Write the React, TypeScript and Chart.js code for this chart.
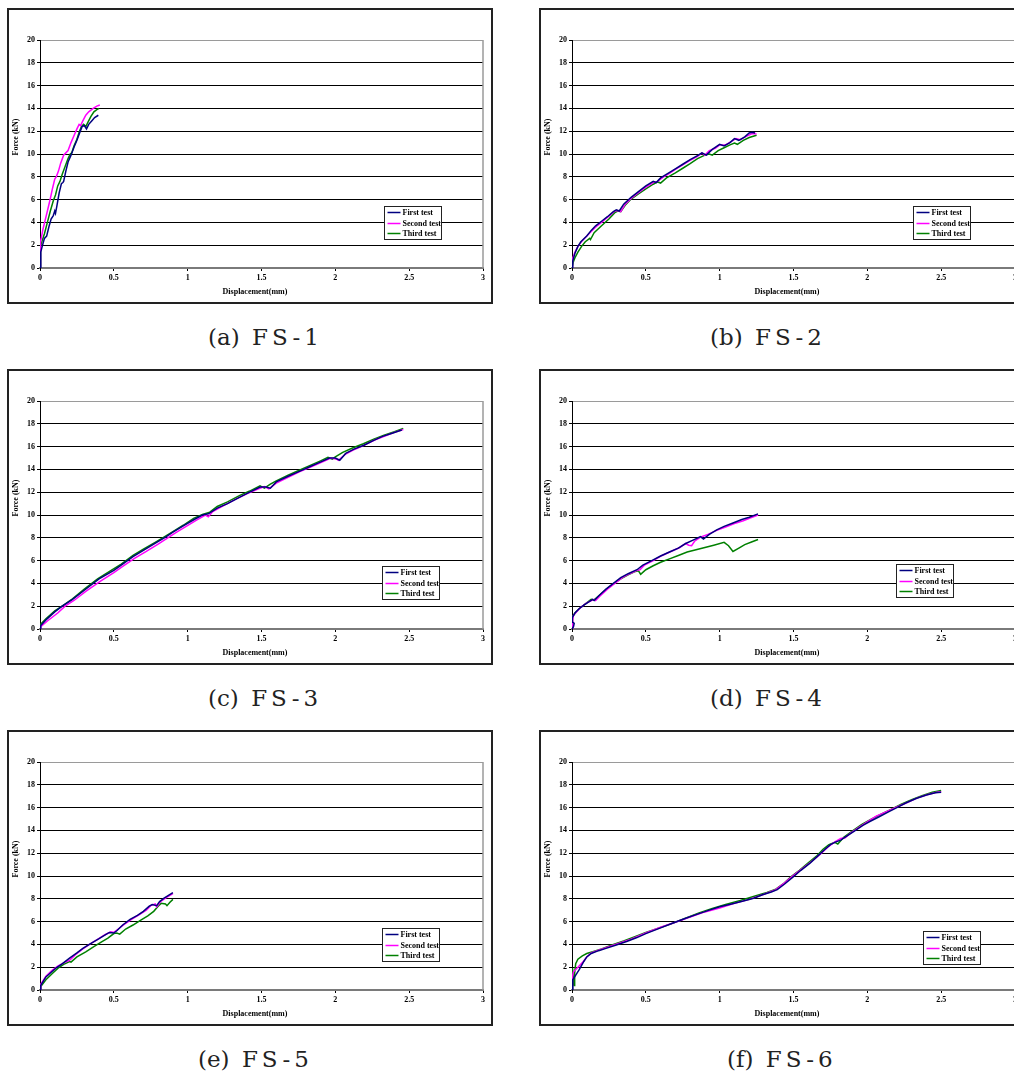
import React, { useEffect, useRef } from "react";
import { Chart, registerables } from "chart.js";

Chart.register(...registerables);

type Pt = [number, number];

const xTicks = [0, 0.5, 1, 1.5, 2, 2.5, 3];
const yTicks = [0, 2, 4, 6, 8, 10, 12, 14, 16, 18, 20];
const seriesNames = ["First test", "Second test", "Third test"];
const seriesColors = ["#000080", "#FF00FF", "#008000"];
const captionLetters = ["(a)", "(b)", "(c)", "(d)", "(e)", "(f)"];
const captionNames = ["FS-1", "FS-2", "FS-3", "FS-4", "FS-5", "FS-6"];
const xTitle = "Displacement(mm)";
const yTitle = "Force (kN)";

const fs1First: Pt[] = [[0,0],[0.005,1.4],[0.015,1.9],[0.03,2.6],[0.045,2.8],[0.06,3.6],[0.075,4.3],[0.09,4.6],[0.1,5.0],[0.105,4.8],[0.115,5.5],[0.13,6.6],[0.145,7.4],[0.155,7.5],[0.16,7.6],[0.175,8.5],[0.19,9.3],[0.21,9.9],[0.23,10.6],[0.25,11.2],[0.27,11.9],[0.285,12.4],[0.3,12.5],[0.315,12.2],[0.33,12.6],[0.35,12.9],[0.37,13.2],[0.395,13.4]];
const fs1Second: Pt[] = [[0,0],[0.003,2.3],[0.01,2.7],[0.02,3.4],[0.035,4.2],[0.05,5.0],[0.07,6.1],[0.085,7.0],[0.1,7.8],[0.11,8.0],[0.125,8.5],[0.14,9.2],[0.16,9.9],[0.175,10.1],[0.19,10.3],[0.21,11.0],[0.23,11.6],[0.25,12.2],[0.265,12.6],[0.275,12.5],[0.29,12.9],[0.31,13.4],[0.33,13.7],[0.36,14.0],[0.385,14.2],[0.405,14.3]];
const fs1Third: Pt[] = [[0,0],[0.004,1.9],[0.015,2.4],[0.03,3.0],[0.05,4.0],[0.07,5.0],[0.09,5.9],[0.105,6.4],[0.12,7.2],[0.135,7.6],[0.15,8.2],[0.17,8.9],[0.19,9.6],[0.205,10.0],[0.215,10.1],[0.23,10.7],[0.25,11.3],[0.265,11.9],[0.28,12.4],[0.295,12.6],[0.31,12.4],[0.325,12.8],[0.345,13.3],[0.365,13.7],[0.385,13.9],[0.4,14.0]];

const fs2First: Pt[] = [[0,0],[0.005,0.6],[0.02,1.3],[0.04,1.9],[0.06,2.3],[0.1,2.8],[0.13,3.3],[0.16,3.7],[0.2,4.1],[0.24,4.5],[0.28,4.95],[0.3,5.1],[0.32,5.0],[0.35,5.6],[0.4,6.2],[0.45,6.7],[0.5,7.2],[0.55,7.6],[0.57,7.5],[0.6,7.9],[0.65,8.3],[0.7,8.7],[0.75,9.1],[0.8,9.5],[0.85,9.85],[0.88,10.1],[0.91,9.9],[0.95,10.4],[1.0,10.85],[1.03,10.7],[1.07,11.0],[1.1,11.35],[1.13,11.2],[1.17,11.5],[1.2,11.85],[1.22,11.9],[1.24,11.85]];
const fs2Second: Pt[] = [[0,0],[0.003,0.8],[0.02,1.4],[0.04,1.9],[0.07,2.4],[0.1,2.8],[0.13,3.2],[0.17,3.7],[0.21,4.1],[0.25,4.55],[0.29,5.0],[0.31,5.05],[0.33,4.95],[0.36,5.6],[0.4,6.1],[0.45,6.6],[0.5,7.1],[0.55,7.5],[0.58,7.6],[0.62,8.0],[0.66,8.3],[0.7,8.65],[0.75,9.05],[0.8,9.45],[0.85,9.8],[0.88,10.1],[0.9,9.9],[0.93,10.3],[0.97,10.5],[1.0,10.8],[1.04,10.8],[1.08,11.1],[1.11,11.35],[1.14,11.25],[1.18,11.55],[1.22,11.8],[1.25,11.75]];
const fs2Third: Pt[] = [[0,0],[0.008,0.5],[0.02,0.9],[0.04,1.4],[0.065,1.9],[0.09,2.3],[0.12,2.6],[0.125,2.5],[0.15,3.1],[0.2,3.7],[0.25,4.3],[0.29,4.85],[0.31,5.0],[0.33,4.95],[0.36,5.5],[0.4,6.05],[0.45,6.5],[0.5,6.95],[0.55,7.35],[0.58,7.55],[0.6,7.45],[0.64,7.9],[0.7,8.35],[0.75,8.75],[0.8,9.15],[0.85,9.6],[0.9,9.9],[0.93,10.0],[0.95,9.9],[0.99,10.3],[1.03,10.55],[1.07,10.8],[1.1,10.95],[1.12,10.85],[1.16,11.2],[1.2,11.45],[1.25,11.65]];

const fs3First: Pt[] = [[0,0],[0.005,0.3],[0.04,0.8],[0.1,1.5],[0.15,2.0],[0.22,2.6],[0.3,3.4],[0.4,4.4],[0.5,5.15],[0.55,5.6],[0.63,6.35],[0.7,6.9],[0.79,7.6],[0.85,8.05],[0.9,8.5],[0.97,9.05],[1.05,9.65],[1.1,10.0],[1.14,10.1],[1.2,10.6],[1.27,11.0],[1.35,11.55],[1.42,12.0],[1.49,12.45],[1.53,12.45],[1.56,12.35],[1.6,12.9],[1.68,13.4],[1.76,13.85],[1.83,14.25],[1.89,14.6],[1.96,15.0],[2.0,15.0],[2.03,14.8],[2.07,15.4],[2.13,15.8],[2.19,16.1],[2.26,16.55],[2.32,16.9],[2.39,17.2],[2.45,17.45]];
const fs3Second: Pt[] = [[0,0],[0.005,0.2],[0.05,0.7],[0.12,1.4],[0.17,2.0],[0.23,2.5],[0.31,3.3],[0.41,4.2],[0.5,4.95],[0.56,5.5],[0.64,6.2],[0.72,6.8],[0.8,7.45],[0.86,7.95],[0.92,8.45],[0.99,9.0],[1.06,9.55],[1.12,10.0],[1.14,9.85],[1.17,10.3],[1.24,10.8],[1.32,11.35],[1.4,11.85],[1.48,12.3],[1.52,12.5],[1.55,12.3],[1.6,12.8],[1.68,13.3],[1.76,13.8],[1.84,14.25],[1.91,14.65],[1.97,15.0],[2.01,14.9],[2.02,14.8],[2.07,15.35],[2.13,15.75],[2.2,16.15],[2.27,16.6],[2.34,16.95],[2.4,17.25],[2.46,17.5]];
const fs3Third: Pt[] = [[0,0],[0.003,0.4],[0.04,0.9],[0.1,1.6],[0.16,2.1],[0.22,2.65],[0.3,3.5],[0.39,4.4],[0.49,5.2],[0.55,5.7],[0.63,6.45],[0.7,7.0],[0.78,7.6],[0.85,8.15],[0.9,8.55],[0.97,9.1],[1.04,9.7],[1.1,10.05],[1.15,10.25],[1.2,10.75],[1.27,11.15],[1.35,11.7],[1.42,12.1],[1.49,12.55],[1.52,12.35],[1.56,12.7],[1.6,13.0],[1.68,13.5],[1.76,13.95],[1.83,14.35],[1.9,14.75],[1.95,15.05],[1.98,14.9],[2.0,15.1],[2.05,15.5],[2.12,15.9],[2.19,16.25],[2.26,16.65],[2.33,17.0],[2.4,17.3],[2.46,17.6]];

const fs4First: Pt[] = [[0,0],[0.01,0.2],[0.015,0.5],[0.005,0.6],[0.002,1.0],[0.02,1.4],[0.05,1.8],[0.08,2.1],[0.14,2.6],[0.15,2.5],[0.18,2.9],[0.23,3.5],[0.28,4.0],[0.33,4.5],[0.38,4.85],[0.44,5.2],[0.48,5.6],[0.54,6.0],[0.6,6.4],[0.66,6.75],[0.72,7.1],[0.77,7.5],[0.82,7.8],[0.87,8.1],[0.89,7.9],[0.9,8.0],[0.93,8.3],[0.98,8.7],[1.03,9.0],[1.09,9.3],[1.15,9.6],[1.2,9.8],[1.26,10.1]];
const fs4Second: Pt[] = [[0,0],[0.005,0.8],[0.01,1.2],[0.03,1.5],[0.06,1.9],[0.1,2.3],[0.15,2.6],[0.16,2.5],[0.19,2.9],[0.24,3.5],[0.29,4.0],[0.34,4.5],[0.39,4.85],[0.44,5.15],[0.46,5.2],[0.49,5.6],[0.55,6.0],[0.61,6.45],[0.67,6.8],[0.73,7.15],[0.77,7.5],[0.79,7.35],[0.81,7.3],[0.83,7.7],[0.87,8.05],[0.92,8.3],[0.98,8.65],[1.04,8.95],[1.1,9.25],[1.16,9.5],[1.21,9.75],[1.26,10.0]];
const fs4Third: Pt[] = [[0,0],[0.003,0.6],[0.005,1.1],[0.02,1.4],[0.05,1.8],[0.08,2.1],[0.13,2.6],[0.15,2.55],[0.18,2.9],[0.23,3.45],[0.28,3.95],[0.33,4.4],[0.38,4.75],[0.43,5.05],[0.45,5.1],[0.465,4.8],[0.5,5.2],[0.55,5.55],[0.6,5.85],[0.66,6.15],[0.72,6.45],[0.78,6.75],[0.84,6.95],[0.9,7.15],[0.96,7.35],[1.03,7.6],[1.06,7.3],[1.09,6.8],[1.13,7.1],[1.17,7.4],[1.22,7.65],[1.26,7.85]];

const fs5First: Pt[] = [[0,0],[0.005,0.4],[0.04,1.15],[0.08,1.6],[0.11,1.95],[0.15,2.3],[0.2,2.8],[0.25,3.25],[0.29,3.65],[0.34,4.05],[0.4,4.5],[0.45,4.9],[0.47,5.05],[0.5,5.0],[0.52,5.2],[0.56,5.7],[0.61,6.2],[0.66,6.55],[0.7,6.9],[0.74,7.35],[0.76,7.5],[0.79,7.4],[0.81,7.75],[0.84,8.05],[0.87,8.3],[0.9,8.55]];
const fs5Second: Pt[] = [[0,0],[0.005,0.5],[0.04,1.2],[0.08,1.7],[0.12,2.1],[0.17,2.45],[0.2,2.6],[0.24,3.1],[0.29,3.6],[0.34,4.05],[0.39,4.45],[0.44,4.85],[0.48,5.1],[0.5,5.05],[0.53,5.35],[0.57,5.75],[0.62,6.2],[0.67,6.6],[0.72,7.0],[0.75,7.4],[0.78,7.55],[0.79,7.3],[0.82,7.8],[0.86,8.15],[0.9,8.45]];
const fs5Third: Pt[] = [[0,0],[0.005,0.3],[0.04,0.9],[0.08,1.4],[0.12,1.9],[0.16,2.25],[0.2,2.5],[0.21,2.45],[0.25,2.9],[0.31,3.35],[0.37,3.85],[0.42,4.25],[0.46,4.55],[0.5,4.95],[0.52,5.0],[0.54,4.9],[0.58,5.35],[0.63,5.7],[0.68,6.1],[0.73,6.5],[0.77,6.9],[0.8,7.35],[0.82,7.6],[0.85,7.55],[0.86,7.4],[0.88,7.7],[0.9,7.95]];

const fs6First: Pt[] = [[0,0],[0.005,0.9],[0.02,1.2],[0.05,1.8],[0.08,2.5],[0.1,2.9],[0.13,3.2],[0.18,3.45],[0.23,3.65],[0.3,3.95],[0.37,4.25],[0.44,4.6],[0.5,4.95],[0.6,5.45],[0.68,5.85],[0.77,6.3],[0.86,6.7],[0.94,7.05],[1.0,7.3],[1.08,7.55],[1.16,7.8],[1.23,8.05],[1.29,8.35],[1.35,8.6],[1.39,8.8],[1.44,9.3],[1.5,9.95],[1.55,10.5],[1.61,11.1],[1.66,11.7],[1.71,12.3],[1.75,12.75],[1.78,12.95],[1.82,13.15],[1.86,13.5],[1.92,14.0],[1.97,14.45],[2.02,14.8],[2.08,15.2],[2.14,15.6],[2.2,16.0],[2.26,16.4],[2.33,16.8],[2.4,17.1],[2.46,17.3],[2.5,17.35]];
const fs6Second: Pt[] = [[0,0],[0.003,1.2],[0.01,1.6],[0.04,2.0],[0.07,2.4],[0.1,2.9],[0.13,3.25],[0.18,3.5],[0.25,3.8],[0.32,4.1],[0.4,4.45],[0.5,5.0],[0.6,5.5],[0.7,5.95],[0.8,6.4],[0.9,6.85],[1.0,7.2],[1.1,7.6],[1.2,7.95],[1.3,8.4],[1.38,8.8],[1.44,9.4],[1.5,10.05],[1.56,10.65],[1.62,11.25],[1.68,11.9],[1.73,12.5],[1.78,13.0],[1.82,13.3],[1.85,13.35],[1.88,13.7],[1.94,14.25],[2.0,14.75],[2.06,15.25],[2.13,15.65],[2.2,16.05],[2.27,16.45],[2.34,16.85],[2.41,17.15],[2.47,17.35],[2.5,17.4]];
const fs6Third: Pt[] = [[0,0],[0.004,1.9],[0.01,0.8],[0.015,0.4],[0.018,1.5],[0.025,2.3],[0.04,2.7],[0.07,3.0],[0.1,3.2],[0.14,3.35],[0.2,3.6],[0.27,3.95],[0.35,4.3],[0.43,4.7],[0.5,5.05],[0.58,5.4],[0.67,5.8],[0.76,6.25],[0.86,6.75],[0.95,7.15],[1.04,7.5],[1.14,7.85],[1.24,8.25],[1.32,8.55],[1.38,8.85],[1.43,9.3],[1.48,9.9],[1.54,10.5],[1.6,11.15],[1.66,11.8],[1.7,12.35],[1.74,12.75],[1.78,12.95],[1.8,12.8],[1.84,13.4],[1.9,13.95],[1.96,14.5],[2.02,14.95],[2.09,15.4],[2.16,15.85],[2.23,16.3],[2.3,16.7],[2.37,17.05],[2.44,17.35],[2.5,17.5]];

const panelSeries: Pt[][][] = [
  [fs1First, fs1Second, fs1Third],
  [fs2First, fs2Second, fs2Third],
  [fs3First, fs3Second, fs3Third],
  [fs4First, fs4Second, fs4Third],
  [fs5First, fs5Second, fs5Third],
  [fs6First, fs6Second, fs6Third],
];

// layout (styles)
const boxPos = [
  { left: 7, top: 8 },
  { left: 539, top: 8 },
  { left: 7, top: 369 },
  { left: 539, top: 369 },
  { left: 7, top: 730 },
  { left: 539, top: 730 },
];
const legendPos = [
  { x: 344, y: 166 },
  { x: 341, y: 166 },
  { x: 342, y: 165 },
  { x: 324, y: 163 },
  { x: 342, y: 166 },
  { x: 351, y: 169 },
];
const captionPos = [
  { left: 208, top: 325 },
  { left: 710, top: 325 },
  { left: 208, top: 686 },
  { left: 710, top: 686 },
  { left: 198, top: 1047 },
  { left: 727, top: 1047 },
];

const CW = 482;
const CH = 292;
const FONT_FAMILY = '"Liberation Serif", "Times New Roman", serif';
const tickFont = { family: FONT_FAMILY, size: 8, weight: "bold" as const };

function Panel({ idx }: { idx: number }) {
  const ref = useRef<HTMLCanvasElement | null>(null);
  useEffect(() => {
    if (!ref.current) return;
    const lg = legendPos[idx];
    const decor = {
      id: "decor" + idx,
      beforeDatasetsDraw(chart: any) {
        const { ctx, chartArea } = chart;
        ctx.save();
        ctx.strokeStyle = "#9a9a9a";
        ctx.lineWidth = 1.5;
        ctx.beginPath();
        ctx.moveTo(chartArea.right, chartArea.top);
        ctx.lineTo(chartArea.right, chartArea.bottom);
        ctx.stroke();
        ctx.restore();
      },
      afterDraw(chart: any) {
        const { ctx, chartArea } = chart;
        ctx.save();
        ctx.fillStyle = "#000";
        ctx.font = `bold 8px ${FONT_FAMILY}`;
        ctx.textAlign = "center";
        ctx.textBaseline = "middle";
        ctx.fillText(xTitle, chartArea.left + 215, chartArea.bottom + 24);
        ctx.save();
        ctx.translate(chartArea.left - 24, chartArea.top + 97);
        ctx.rotate(-Math.PI / 2);
        ctx.fillText(yTitle, 0, 0);
        ctx.restore();
        // legend
        const bx = Math.round(chartArea.left + lg.x) + 0.5;
        const by = Math.round(chartArea.top + lg.y) + 0.5;
        const bw = 57;
        const bh = 33;
        ctx.fillStyle = "#fff";
        ctx.fillRect(bx, by, bw, bh);
        ctx.strokeStyle = "#222";
        ctx.lineWidth = 1;
        ctx.strokeRect(bx, by, bw, bh);
        ctx.textAlign = "left";
        const rows = [6, 17, 27];
        seriesNames.forEach((name, i) => {
          const ry = by + rows[i];
          ctx.strokeStyle = seriesColors[i];
          ctx.lineWidth = 1.5;
          ctx.beginPath();
          ctx.moveTo(bx + 3, ry);
          ctx.lineTo(bx + 16, ry);
          ctx.stroke();
          ctx.fillStyle = "#000";
          ctx.fillText(name, bx + 18, ry);
        });
        ctx.restore();
      },
    };
    const chart = new Chart(ref.current, {
      type: "scatter",
      data: {
        datasets: panelSeries[idx].map((s, i) => ({
          label: seriesNames[i],
          data: s.map(([x, y]) => ({ x, y })),
          showLine: true,
          borderColor: seriesColors[i],
          backgroundColor: seriesColors[i],
          borderWidth: 1.5,
          pointRadius: 0,
          tension: 0,
        })),
      },
      options: {
        animation: false,
        responsive: false,
        maintainAspectRatio: false,
        layout: { padding: { top: 30, right: 8, left: 0, bottom: 0 } },
        plugins: { legend: { display: false }, tooltip: { enabled: false } },
        scales: {
          x: {
            type: "linear",
            min: 0,
            max: 3,
            afterBuildTicks: (s: any) => {
              s.ticks = xTicks.map((v) => ({ value: v }));
            },
            afterFit: (s: any) => {
              s.height = CH - 258;
            },
            ticks: {
              font: tickFont,
              color: "#000",
              padding: 2,
              maxRotation: 0,
              autoSkip: false,
              callback: (v: any) => String(v),
            },
            grid: { drawOnChartArea: false, drawTicks: true, tickLength: 3, color: "#000" },
            border: { color: "#7a7a7a", width: 2 },
          },
          y: {
            type: "linear",
            min: 0,
            max: 20,
            afterBuildTicks: (s: any) => {
              s.ticks = yTicks.map((v) => ({ value: v }));
            },
            afterFit: (s: any) => {
              s.width = 31;
            },
            ticks: { font: tickFont, color: "#000", padding: 2, callback: (v: any) => String(v) },
            grid: {
              color: (c: any) =>
                c.tick && c.tick.value === 20 ? "#9a9a9a" : c.tick && c.tick.value === 0 ? "rgba(0,0,0,0)" : "#000",
              tickColor: "#000",
              tickLength: 3,
              lineWidth: 1,
            },
            border: { color: "#000", width: 1 },
          },
        },
      },
      plugins: [decor],
    } as any);
    return () => chart.destroy();
  }, [idx]);
  const p = boxPos[idx];
  return (
    <div
      style={{
        position: "absolute",
        left: p.left,
        top: p.top,
        width: CW,
        height: CH,
        border: "2px solid #222",
        background: "#fff",
      }}
    >
      <canvas ref={ref} width={CW} height={CH} style={{ display: "block", width: CW, height: CH }} />
    </div>
  );
}

export default function App() {
  return (
    <div
      style={{
        position: "fixed",
        left: 0,
        top: 0,
        width: 1014,
        height: 1073,
        overflow: "hidden",
        background: "#fff",
      }}
    >
      {boxPos.map((_, i) => (
        <Panel key={i} idx={i} />
      ))}
      {captionLetters.map((c, i) => (
        <div
          key={"c" + i}
          style={{
            position: "absolute",
            left: captionPos[i].left,
            top: captionPos[i].top,
            fontFamily: '"DejaVu Serif", "Liberation Serif", serif',
            fontSize: 23,
            lineHeight: "25px",
            whiteSpace: "pre",
            color: "#222",
          }}
        >
          <span>{c + " "}</span>
          <span style={{ marginLeft: 5, letterSpacing: 4 }}>{captionNames[i]}</span>
        </div>
      ))}
    </div>
  );
}
